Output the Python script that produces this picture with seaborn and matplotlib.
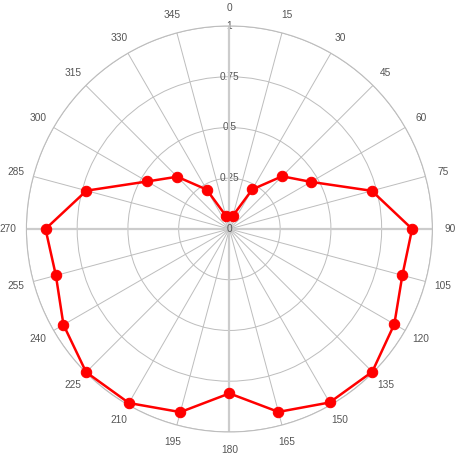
import numpy as np
import pandas as pd
import matplotlib
matplotlib.use("Agg")
import matplotlib.pyplot as plt
import seaborn as sns

# ── Data ───────────────────────────────────────────────────────────────────
angles_deg = [15, 30, 45, 60, 75, 90, 105, 120, 135, 150, 165, 180,
              195, 210, 225, 240, 255, 270, 285, 300, 315, 330, 345]
radius = [0.068, 0.225, 0.367, 0.464, 0.726, 0.90, 0.882, 0.938, 0.995,
          0.987, 0.933, 0.81, 0.934, 0.99, 0.998, 0.944, 0.885, 0.906,
          0.729, 0.468, 0.364, 0.224, 0.067]
angle_ticks = list(range(0, 360, 15))
r_ticks = [0.25, 0.5, 0.75, 1]
r_labels = ["0.25", "0.5", "0.75", "1"]

df = pd.DataFrame({"theta": np.deg2rad(angles_deg), "r": radius})

sns.set_theme(style="white")
plt.rcParams["font.family"] = ["Liberation Sans", "DejaVu Sans"]

GRID = "#bdbdbd"
TXT = "#555555"

fig = plt.figure(figsize=(4.63, 4.68), dpi=100)
ax = fig.add_axes([0.057, 0.077, 0.877, 0.8675], projection="polar")
ax.set_theta_zero_location("N")
ax.set_theta_direction(-1)
ax.set_ylim(0, 1)

# main axis lines (0/90/180/270) a bit heavier
for a in [0, 90, 180, 270]:
    ax.axvline(np.deg2rad(a), color="#cccccc", lw=1.6, zorder=1)

sns.lineplot(data=df, x="theta", y="r", sort=False, estimator=None,
             color="#ff0000", lw=1.8, marker="o", markersize=7.5,
             markeredgecolor="#ff0000", ax=ax, zorder=5, clip_on=False)

ax.set_thetagrids(angle_ticks, [str(a) for a in angle_ticks],
                  fontsize=7.3, color=TXT)
ax.tick_params(axis="x", pad=0)
ax.set_rgrids(r_ticks, r_labels, angle=0, fontsize=7.3, color=TXT)
for lab in ax.get_yticklabels():
    lab.set_ha("center")
    lab.set_va("center")
ax.text(0, 0, "0", ha="center", va="center", fontsize=7.3, color=TXT, zorder=3)

ax.grid(True, color=GRID, lw=0.7)
ax.spines["polar"].set_color(GRID)
ax.spines["polar"].set_linewidth(0.8)
ax.set_xlabel("")
ax.set_ylabel("")

fig.savefig("out.png", dpi=100)
